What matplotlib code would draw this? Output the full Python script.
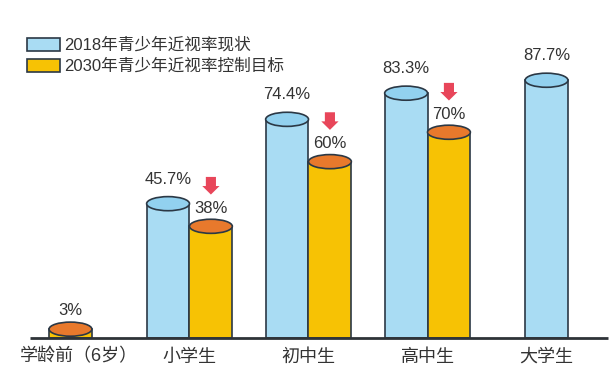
import numpy as np
import matplotlib.pyplot as plt
from matplotlib.patches import Ellipse, Rectangle, FancyArrow

plt.rcParams['font.family'] = ['Liberation Sans', 'Noto Sans CJK SC', 'DejaVu Sans']

categories = ["学龄前（6岁）", "小学生", "初中生", "高中生", "大学生"]
rate_2018 = [None, 45.7, 74.4, 83.3, 87.7]   # 学龄前没有2018柱
target_2030 = [3, 38, 60, 70, None]          # 大学生没有目标柱
legend_labels = ["2018年青少年近视率现状", "2030年青少年近视率控制目标"]

blue = '#a9dcf3'
blue_top = '#92d1ef'
gold = '#f7c204'
orange_top = '#e8792c'
edge = '#2b3845'
txt = '#333333'

w = 0.36      # 柱宽
eh = 4.8      # 顶部椭圆高度 (数据单位)

fig = plt.figure(figsize=(6.12, 3.8), dpi=100)
ax = fig.add_axes([0, 0, 1, 1])
ax.set_xlim(-0.592, 4.55)
ax.set_ylim(-14.3, 115)
ax.axis('off')


def cylinder(x, v, body, top, lab_gap):
    ax.bar(x, v, width=w, color=body, edgecolor=edge, linewidth=1.2, zorder=2)
    ax.add_patch(Ellipse((x, v), w, eh, facecolor=top, edgecolor=edge, linewidth=1.2, zorder=3))
    ax.text(x, v + lab_gap, f"{v:g}%", ha='center', va='center', fontsize=12, color=txt)


for i in range(len(categories)):
    b = rate_2018[i]
    o = target_2030[i]
    if b is not None and o is not None:
        xb, xo = i - w / 2, i + w / 2
    else:
        xb = xo = i
    if b is not None:
        cylinder(xb, b, blue, blue_top, 8.3)
    if o is not None:
        cylinder(xo, o, gold, orange_top, 6.2)
        if b is not None:
            # 红色向下箭头
            ax.add_patch(FancyArrow(xo, o + 16.8, 0, -6.0, width=0.085, head_width=0.145,
                                    head_length=2.9, length_includes_head=True,
                                    color='#e8465a', linewidth=0, zorder=4))
    lx = i + 0.07 if i == 0 else i   # 第一个标签稍微靠右
    ax.text(lx, -6.5, categories[i], ha='center', va='center', fontsize=13, color=txt)

# 基线
ax.plot([-0.34, 4.52], [0, 0], color='#2e3338', linewidth=2, zorder=5, solid_capstyle='butt')

# 图例
for k, (lab, col) in enumerate(zip(legend_labels, [blue, gold])):
    y0 = 1 - (51 + 21 * k) / 380
    ax.add_patch(Rectangle((27 / 612, y0), 33 / 612, 13 / 380, transform=ax.transAxes,
                           facecolor=col, edgecolor=edge, linewidth=1.2))
    ax.text(64 / 612, y0 + 6.5 / 380, lab, transform=ax.transAxes, ha='left', va='center',
            fontsize=12, color=txt)

fig.savefig('out.png', dpi=100)
